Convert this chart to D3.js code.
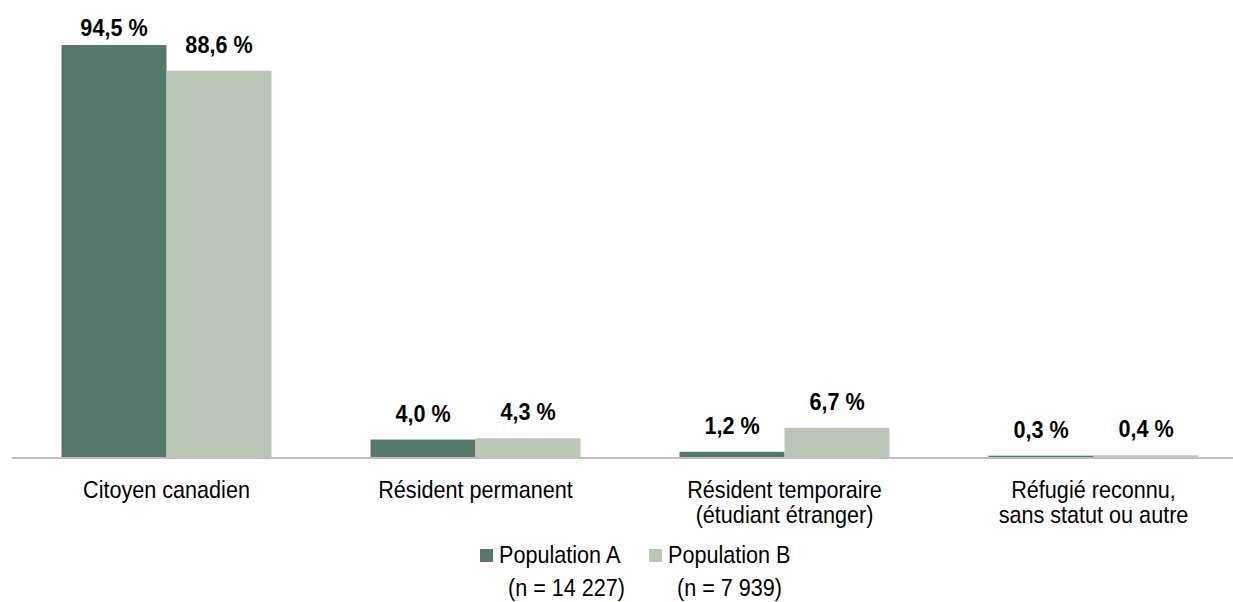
<!DOCTYPE html>
<html><head><meta charset="utf-8">
<script src="https://cdn.jsdelivr.net/npm/d3@7"></script>
<style>body{margin:0;background:#fff}svg{display:block}</style>
</head><body>
<svg id="c" width="1233" height="602"></svg>
<script>
const categories = [["Citoyen canadien"], ["Résident permanent"], ["Résident temporaire", "(étudiant étranger)"], ["Réfugié reconnu,", "sans statut ou autre"]];
const seriesNames = [["Population A", "(n = 14 227)"], ["Population B", "(n = 7 939)"]];
const popA = [94.5, 4.0, 1.2, 0.3];
const popB = [88.6, 4.3, 6.7, 0.4];
const labelsA = ["94,5 %", "4,0 %", "1,2 %", "0,3 %"];
const labelsB = ["88,6 %", "4,3 %", "6,7 %", "0,4 %"];
const colors = ["#557869", "#b9c7b4"];

const svg = d3.select("#c");
const font = "'Liberation Sans', Arial, sans-serif";
const baseY = 457;
const y = d3.scaleLinear().domain([0, 100]).range([baseY, baseY - 436]);
const x0 = d3.scaleBand().domain(d3.range(categories.length)).range([12, 1248]).paddingInner(99/309).paddingOuter(99/618);
const x1 = d3.scaleBand().domain([0, 1]).range([0, x0.bandwidth()]);

const data = [popA, popB];
const labels = [labelsA, labelsB];

const g = svg.append("g");
data.forEach((vals, s) => {
  g.selectAll(".bar" + s).data(vals).join("rect")
    .attr("x", (d, i) => x0(i) + x1(s))
    .attr("width", x1.bandwidth())
    .attr("y", d => y(d))
    .attr("height", d => baseY - y(d))
    .attr("fill", colors[s]);
  g.selectAll(".lab" + s).data(vals).join("text")
    .attr("transform", (d, i) => `translate(${x0(i) + x1(s) + x1.bandwidth() / 2},${Math.max(y(d) - 18, 36)}) scale(0.92,1)`)
    .attr("text-anchor", "middle")
    .attr("font-family", font).attr("font-weight", "bold").attr("font-size", 23.5)
    .attr("fill", "#000")
    .text((d, i) => labels[s][i]);
});

// axis line
svg.append("line").attr("x1", 12).attr("x2", 1233).attr("y1", baseY + 1).attr("y2", baseY + 1)
  .attr("stroke", "#bfbfbf").attr("stroke-width", 2);

// category labels
const catG = svg.append("g");
categories.forEach((lines, i) => {
  const t = catG.append("text")
    .attr("transform", `translate(${x0(i) + x0.bandwidth() / 2},0) scale(0.9,1)`)
    .attr("text-anchor", "middle").attr("font-family", font).attr("font-size", 24).attr("fill", "#000");
  lines.forEach((ln, k) => t.append("tspan").attr("x", 0).attr("y", 498 + k * 25).text(ln));
});

// legend
const legX = [480, 649];
seriesNames.forEach((lines, s) => {
  svg.append("rect").attr("x", legX[s]).attr("y", 549).attr("width", 13).attr("height", 13).attr("fill", colors[s]);
  const t = svg.append("text")
    .attr("transform", `translate(${legX[s] + 19},0) scale(0.9,1)`)
    .attr("font-family", font).attr("font-size", 24).attr("fill", "#000");
  t.append("tspan").attr("x", 0).attr("y", 563).text(lines[0]);
  t.append("tspan").attr("x", 10).attr("y", 596).text(lines[1]);
});
</script>
</body></html>
